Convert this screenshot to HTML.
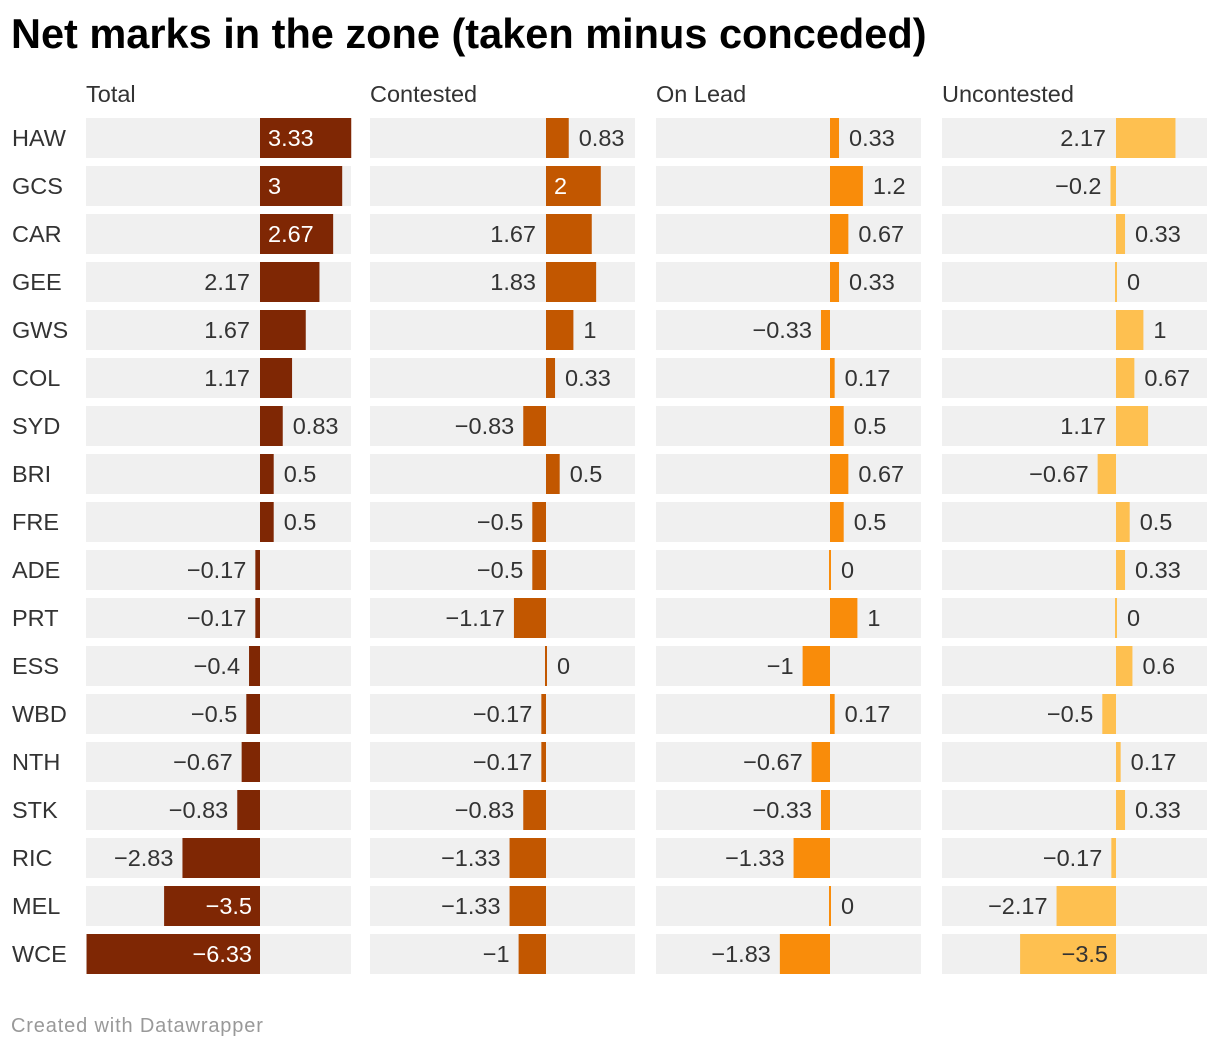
<!DOCTYPE html>
<html><head><meta charset="utf-8">
<style>
body{margin:0;background:#fff;font-family:"Liberation Sans",sans-serif;}
#wrap{position:relative;width:1220px;height:1050px;overflow:hidden;}
h1{position:absolute;left:11px;top:10px;margin:0;font-size:41.5px;font-weight:bold;color:#000;letter-spacing:0px;}
#foot{position:absolute;left:11px;top:1015px;font-size:20px;color:#999;letter-spacing:0.85px;}
</style></head>
<body>
<div id="wrap">
<h1>Net marks in the zone (taken minus conceded)</h1>
<svg id="chart" width="1220" height="1050" style="position:absolute;left:0;top:0"></svg>
<div id="foot">Created with Datawrapper</div>
</div>
<script>
const teams=["HAW","GCS","CAR","GEE","GWS","COL","SYD","BRI","FRE","ADE","PRT","ESS","WBD","NTH","STK","RIC","MEL","WCE"];
const panelTitles=["Total","Contested","On Lead","Uncontested"];
const totalVals=[3.33,3,2.67,2.17,1.67,1.17,0.83,0.5,0.5,-0.17,-0.17,-0.4,-0.5,-0.67,-0.83,-2.83,-3.5,-6.33];
const contestedVals=[0.83,2,1.67,1.83,1,0.33,-0.83,0.5,-0.5,-0.5,-1.17,0,-0.17,-0.17,-0.83,-1.33,-1.33,-1];
const onLeadVals=[0.33,1.2,0.67,0.33,-0.33,0.17,0.5,0.67,0.5,0,1,-1,0.17,-0.67,-0.33,-1.33,0,-1.83];
const uncontestedVals=[2.17,-0.2,0.33,0,1,0.67,1.17,-0.67,0.5,0.33,0,0.6,-0.5,0.17,0.33,-0.17,-2.17,-3.5];
const series=[totalVals,contestedVals,onLeadVals,uncontestedVals];
const colors=["#7f2704","#c25700","#f98c0a","#fec050"];
const insideText=["#fff","#fff","#fff","#333"];
const svg=document.getElementById('chart');
const NS="http://www.w3.org/2000/svg";
const panelX=[86,370,656,942], panelW=265, zeroOff=[174,176,174,174], scale=27.4;
const FS=23.5;
const rowY=i=>118+i*48, rowH=40;
const xs=(p,v)=>panelX[p]+zeroOff[p]+v*scale;
const ctx=document.createElement('canvas').getContext('2d');
ctx.font=FS+'px "Liberation Sans", sans-serif';
function fmt(v){return v<0?'\u2212'+Math.abs(v):String(v);}
function mk(tag,attrs){const e=document.createElementNS(NS,tag);for(const k in attrs)e.setAttribute(k,attrs[k]);svg.appendChild(e);return e;}
teams.forEach((t,i)=>{
  const e=mk('text',{x:12,y:rowY(i)+28,'font-size':FS,fill:'#333'});
  e.textContent=t;
  
  
});
panelTitles.forEach((pt,p)=>{
  const h=mk('text',{x:panelX[p],y:102,'font-size':FS,fill:'#333'});
  h.textContent=pt;
  
  
  series[p].forEach((v,i)=>{
    const y=rowY(i);
    const bg=mk('rect',{x:panelX[p],y:y,width:panelW,height:rowH,fill:'#f0f0f0'});
    
    
    const z=xs(p,0), xv=xs(p,v);
    let x0=Math.min(z,xv), w=Math.abs(xv-z);
    if(w<2){w=2;x0=z-1;}
    const b=mk('rect',{x:x0,y:y,width:w,height:rowH,fill:colors[p]});
    
    
    const s=fmt(v), tw=ctx.measureText(s).width;
    let lx,anchor='start',fill='#333';
    if(w>=tw+20){
      fill=insideText[p];
      if(v>=0){lx=x0+8;}else{lx=x0+w-8;anchor='end';}
    }else if(v>=0){
      const space=panelX[p]+panelW-(x0+w);
      if(space>=tw+20){lx=x0+w+10;}else{lx=z-10;anchor='end';}
    }else{
      const space=x0-panelX[p];
      if(space>=tw+14){lx=x0-9;anchor='end';}else{lx=z+10;}
    }
    const l=mk('text',{x:lx,y:y+28,'font-size':FS,fill:fill,'text-anchor':anchor});
    l.textContent=s;
    
    
  });
});
</script>
</body></html>
